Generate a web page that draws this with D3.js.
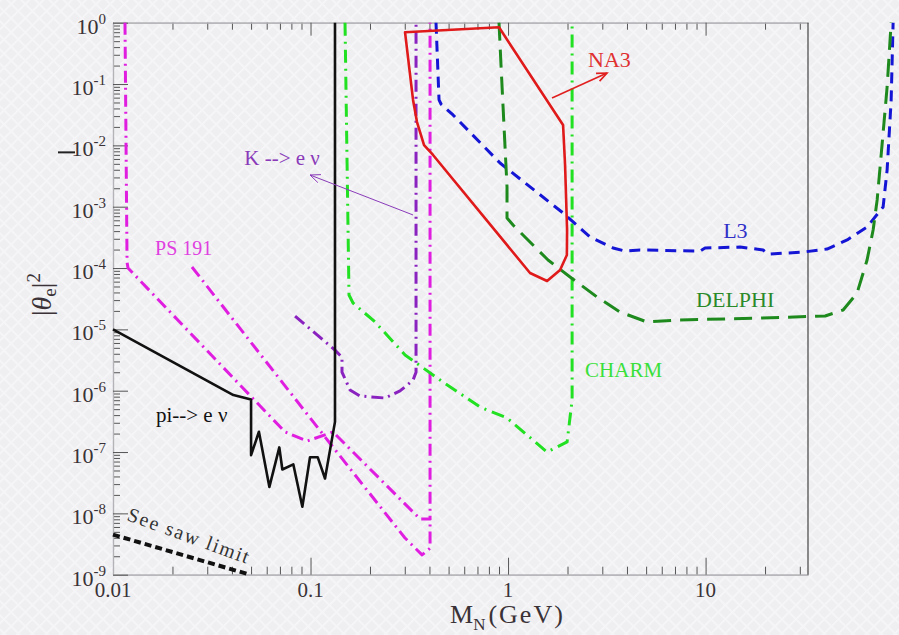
<!DOCTYPE html>
<html><head><meta charset="utf-8">
<script src="https://cdn.jsdelivr.net/npm/d3@7"></script>
<style>
html,body{margin:0;padding:0;background:#f0f0f3;}
svg{display:block;}
</style></head><body>
<svg id="chart" width="899" height="635" font-family="'Liberation Serif','Times New Roman','DejaVu Serif',serif"></svg>
<script>
// ---------- data (mass in GeV, |theta_e|^2) ----------
const xTickValues = [0.01, 0.1, 1, 10];
const xTickLabels = ["0.01", "0.1", "1", "10"];
const yTickExponents = [0, -1, -2, -3, -4, -5, -6, -7, -8, -9];

const piENu = [[0.01,1.0e-5],[0.0407,8.5e-7],[0.05,7.2e-7],[0.05,8.9e-8],[0.0548,2.14e-7],[0.0619,2.7e-8],
  [0.0695,1.19e-7],[0.072,5.2e-8],[0.0818,6.3e-8],[0.0909,1.28e-8],[0.0994,8.2e-8],[0.1088,8.2e-8],
  [0.1184,3.7e-8],[0.133,3.1e-7],[0.133,1]];
const seeSaw = [[0.01,4.5e-9],[0.0494,1.0e-9]];
const ps191A = [[0.0115,1],[0.01178,1.25e-4],[0.01191,1.0e-4],[0.0743,2.12e-7],[0.096,1.51e-7],[0.13,2.12e-7],
  [0.3584,8.1e-9],[0.4028,8.1e-9],[0.4028,1]];
const ps191B = [[0.0251,1.04e-4],[0.13,1.2e-7],[0.30,4.0e-9],[0.3669,2.1e-9],[0.4028,2.7e-9],[0.4028,8.1e-9]];
const kENu = [[0.0835,1.65e-5],[0.133,4.58e-6],[0.1443,3.52e-6],[0.1443,2.01e-6],[0.1585,1.03e-6],[0.178,8.2e-7],
  [0.2383,7.6e-7],[0.2838,9.9e-7],[0.3304,1.49e-6],[0.3421,2.0e-6],[0.3421,1]];
const charm = [[0.1495,1],[0.1566,3.63e-5],[0.1641,2.69e-5],[0.2122,1.32e-5],[0.301,3.82e-6],[0.4688,1.38e-6],
  [0.7215,5.42e-7],[0.988,3.59e-7],[1.576,1.0e-7],[1.99,1.46e-7],[2.11,7.05e-7],[2.11,1]];
const na3 = [[0.301,0.697],[0.9,0.841],[1.899,0.0215],[1.944,4.78e-3],[1.99,4.17e-4],[1.985,1.63e-4],
  [1.834,9.29e-5],[1.576,6.14e-5],[1.292,8.3e-5],[0.417,6.97e-3],[0.3756,1.01e-2],[0.346,0.024],[0.3304,0.055]];
const l3 = [[0.4318,1],[0.4473,0.055],[0.4579,0.0472],[0.5266,0.0313],[0.911,5.15e-3],[1.899,7.89e-4],
  [2.601,3.2e-4],[3.401,2.12e-4],[3.912,1.89e-4],[4.66,1.97e-4],[9.38,1.89e-4],[9.94,2.12e-4],[14.95,2.2e-4],
  [19.55,1.97e-4],[20.73,1.69e-4],[31.17,1.82e-4],[41.2,2.04e-4],[52.1,2.87e-4],[65.7,4.67e-4],[79.2,9.89e-4],
  [83.0,3.97e-3],[87.0,0.055],[89.0,1]];
const delphi = [[0.9,1],[0.922,0.1917],[0.988,2.09e-3],[0.988,6.54e-4],[1.06,5.03e-4],[1.594,1.35e-4],
  [2.06,7.14e-5],[2.822,3.37e-5],[3.69,1.92e-5],[5.055,1.32e-5],[7.17,1.42e-5],[18.88,1.53e-5],[40.3,1.65e-5],
  [49.7,2.07e-5],[58.5,3.92e-5],[65.7,1.35e-4],[70.5,4.17e-4],[73.9,1.29e-3],[79.2,0.0159],[83.0,0.0895],[87.0,1]];

// ---------- setup ----------
const svg = d3.select("#chart");
const W = 899, H = 635;
const x = d3.scaleLog().domain([0.01, 33]).range([113, 808]);
const y = d3.scaleLog().domain([1e-9, 1]).range([574.7, 22.7]);

// background texture
const defs = svg.append("defs");
const pat = defs.append("pattern").attr("id","bgpat").attr("width",10).attr("height",10)
  .attr("patternUnits","userSpaceOnUse").attr("patternTransform","rotate(45)");
pat.append("rect").attr("width",10).attr("height",10).attr("fill","#efeff2");
pat.append("line").attr("x1",0).attr("y1",0).attr("x2",0).attr("y2",10).attr("stroke","#f7f7f9").attr("stroke-width",3);
pat.append("line").attr("x1",0).attr("y1",5).attr("x2",10).attr("y2",5).attr("stroke","#f5f5f7").attr("stroke-width",2);
svg.append("rect").attr("width",W).attr("height",H).attr("fill","url(#bgpat)");

// ---------- axes ----------
const majorX = xTickValues;
const minorX = [];
[0.01,0.1,1,10].forEach(d => { for (let k=2;k<=9;k++){ const v=d*k; if (v<=33) minorX.push(v);} });
const majorY = yTickExponents.map(e => Math.pow(10,e));
const minorY = [];
for (let e=-9;e<0;e++){ for (let k=2;k<=9;k++) minorY.push(k*Math.pow(10,e)); }

function styleAxis(g){
  g.select(".domain").attr("stroke","#b4b4b8").attr("stroke-width",1.2);
  g.selectAll(".tick line").attr("stroke","#555").attr("stroke-width",1);
  g.selectAll(".tick text").remove();
}
// bottom
svg.append("g").attr("transform",`translate(0,${y(1e-9)})`)
  .call(d3.axisBottom(x).tickValues(minorX).tickSizeInner(-8).tickSizeOuter(0)).call(styleAxis);
svg.append("g").attr("transform",`translate(0,${y(1e-9)})`)
  .call(d3.axisBottom(x).tickValues(majorX).tickSizeInner(-17).tickSizeOuter(0)).call(styleAxis);
// top
svg.append("g").attr("transform",`translate(0,${y(1)})`)
  .call(d3.axisTop(x).tickValues(minorX).tickSizeInner(-7).tickSizeOuter(0)).call(styleAxis);
svg.append("g").attr("transform",`translate(0,${y(1)})`)
  .call(d3.axisTop(x).tickValues(majorX).tickSizeInner(-13).tickSizeOuter(0)).call(styleAxis);
// left
svg.append("g").attr("transform",`translate(${x(0.01)},0)`)
  .call(d3.axisLeft(y).tickValues(minorY).tickSizeInner(-7).tickSizeOuter(0)).call(styleAxis);
svg.append("g").attr("transform",`translate(${x(0.01)},0)`)
  .call(d3.axisLeft(y).tickValues(majorY).tickSizeInner(-15).tickSizeOuter(0)).call(styleAxis);
// right frame
svg.append("line").attr("x1",x(33)).attr("x2",x(33)).attr("y1",y(1)).attr("y2",y(1e-9))
  .attr("stroke","#444").attr("stroke-width",1.2);
// small stray dash left of the 10^-2 label (present in the original)
svg.append("line").attr("x1",58).attr("x2",75).attr("y1",y(1e-2)+7).attr("y2",y(1e-2)+7)
  .attr("stroke","#222").attr("stroke-width",2);

// tick labels
const labelColor = "#3a3236";
svg.append("g").selectAll("text").data(majorX).join("text")
  .attr("x", d => x(d)).attr("y", 597).attr("text-anchor","middle")
  .attr("font-size",21).attr("fill",labelColor).text((d,i) => xTickLabels[i]);
const yl = svg.append("g").selectAll("text").data(yTickExponents).join("text")
  .attr("x", 106).attr("y", d => y(Math.pow(10,d)) + 11).attr("text-anchor","end")
  .attr("font-size",22).attr("fill",labelColor);
yl.append("tspan").text("10");
yl.append("tspan").attr("dy",-10).attr("font-size",15).text(d => d === 0 ? "0" : "-" + Math.abs(d));

// axis titles
const xt = svg.append("text").attr("x",450).attr("y",623).attr("font-size",26).attr("fill",labelColor);
xt.append("tspan").text("M");
xt.append("tspan").attr("dy",7).attr("font-size",17).text("N");
xt.append("tspan").attr("dy",-7).attr("dx",3).attr("letter-spacing",2).text("(GeV)");

const yt = svg.append("text").attr("transform","translate(51,316) rotate(-90)")
  .attr("font-size",28).attr("fill",labelColor);
yt.append("tspan").text("|");
yt.append("tspan").attr("font-style","italic").text("θ");
yt.append("tspan").attr("dy",5).attr("font-size",19).text("e");
yt.append("tspan").attr("dy",-5).text("|");
yt.append("tspan").attr("dy",-11).attr("font-size",19).text("2");

// ---------- curves ----------
const line = d3.line().x(d => x(d[0])).y(d => y(d[1]));
const curves = [
  {data: ps191A, color:"#e01ee0", width:3, dash:"12,5,2,5"},
  {data: ps191B, color:"#e01ee0", width:3, dash:"12,5,2,5"},
  {data: charm,  color:"#22e022", width:3, dash:"13,6,2,6"},
  {data: kENu,   color:"#8a22c0", width:3, dash:"12,5,2,5"},
  {data: l3,     color:"#1515d5", width:3, dash:"11,7"},
  {data: delphi, color:"#1e8a1e", width:3, dash:"18,9"},
  {data: na3,    color:"#e01a1a", width:2.6, dash:null, closed:true},
  {data: piENu,  color:"#111111", width:2.6, dash:null},
  {data: seeSaw, color:"#111111", width:4, dash:"7,4"}
];
curves.forEach(c => {
  svg.append("path")
    .attr("d", line(c.data) + (c.closed ? "Z" : ""))
    .attr("fill","none").attr("stroke",c.color).attr("stroke-width",c.width)
    .attr("stroke-linejoin","round")
    .attr("stroke-dasharray", c.dash);
});

// ---------- annotations ----------
function arrow(x1,y1,x2,y2,color,w){
  const px1=x(x1), py1=y(y1), px2=x(x2), py2=y(y2);
  svg.append("line").attr("x1",px1).attr("y1",py1).attr("x2",px2).attr("y2",py2)
    .attr("stroke",color).attr("stroke-width",w);
  const a = Math.atan2(py2-py1, px2-px1), L = 11, s = 0.4;
  const p = [[px2 - L*Math.cos(a-s), py2 - L*Math.sin(a-s)],[px2,py2],[px2 - L*Math.cos(a+s), py2 - L*Math.sin(a+s)]];
  svg.append("path").attr("d", d3.line()(p)).attr("fill","none").attr("stroke",color).attr("stroke-width",w);
}
arrow(0.3304, 7.33e-4, 0.0994, 3.29e-3, "#8a3ab9", 1);
arrow(1.67, 0.0592, 3.17, 0.151, "#e02020", 1.6);

function label(txt, mx, my, color, size){
  return svg.append("text").attr("x", x(mx)).attr("y", y(my)).attr("fill", color)
    .attr("font-size", size).text(txt);
}
label("PS 191", 0.01632, 1.63e-4, "#e040e0", 20);
label("K --> e ν", 0.0462, 4.78e-3, "#8a3ab9", 21);
label("pi--> e ν", 0.0165, 3.08e-7, "#111", 21);
label("NA3", 2.54, 0.1895, "#e03030", 22);
label("L3", 12.27, 3.09e-4, "#3030c8", 22);
label("DELPHI", 8.95, 2.31e-5, "#2a8a2a", 22);
label("CHARM", 2.455, 1.67e-6, "#3ae03a", 21);

svg.append("text")
  .attr("transform", `translate(${x(0.01163)},${y(7.8e-9)}) rotate(20)`)
  .attr("font-size",20).attr("fill","#333").attr("textLength",128).attr("lengthAdjust","spacing")
  .text("See saw limit");
</script>
</body></html>
